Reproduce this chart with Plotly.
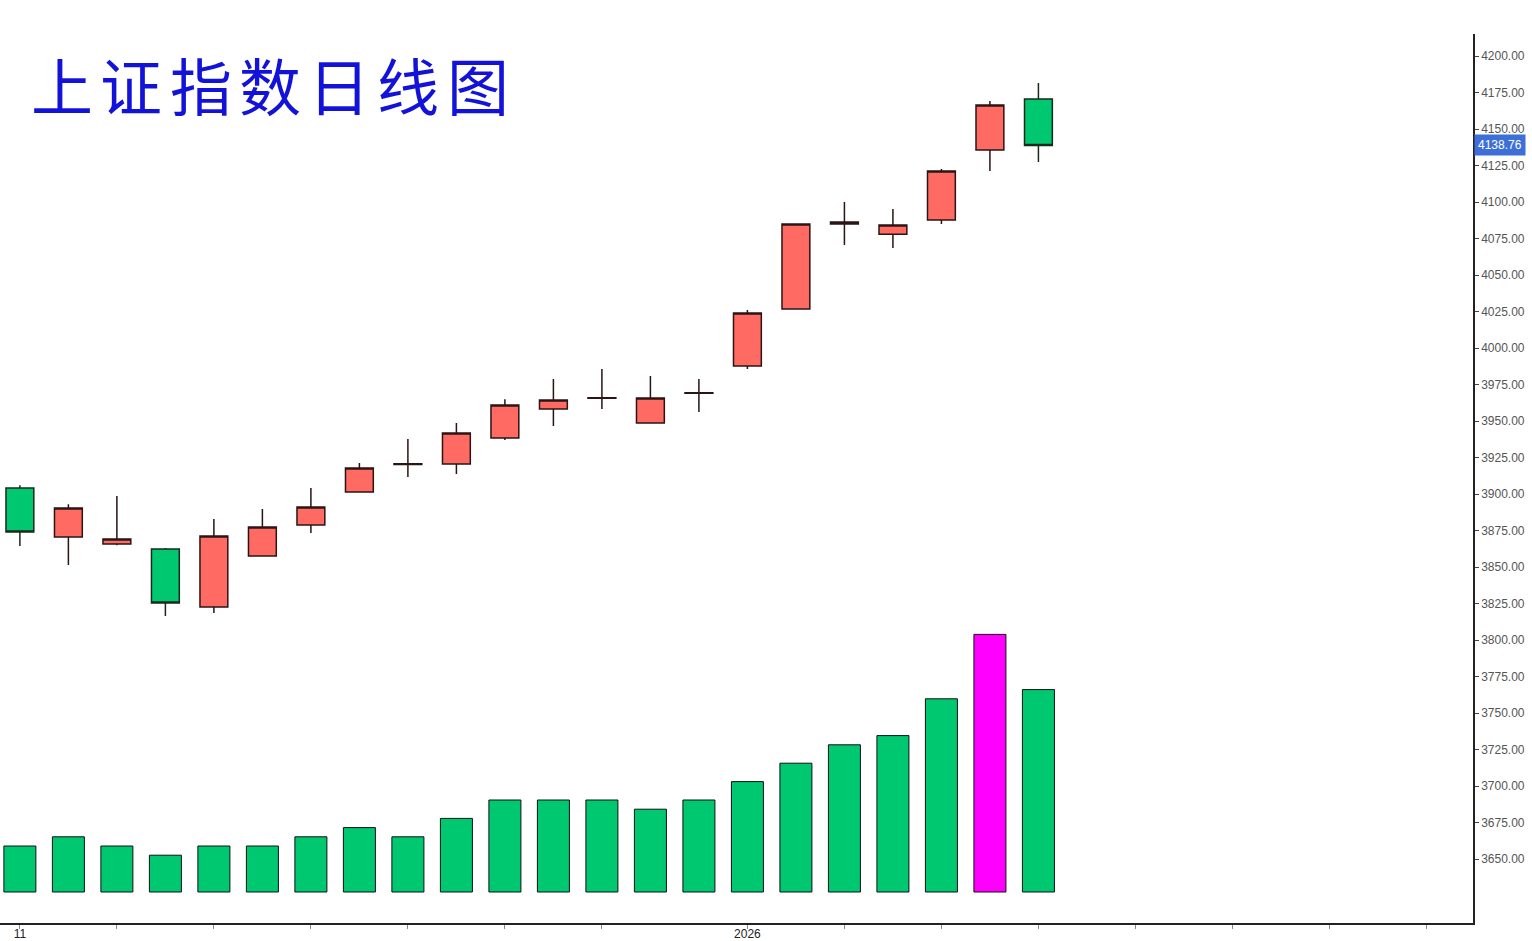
import plotly.graph_objects as go

# ---- data ----
idx = list(range(22))
opens  = [3904.1, 3870.5, 3865.8, 3862.3, 3822.6, 3857.5, 3878.8, 3901.4, 3920.3, 3920.5, 3938.4,
          3958.2, 3965.6, 3948.6, 3969.0, 3987.7, 4026.7, 4084.9, 4078.0, 4087.7, 4135.6, 4170.5]
highs  = [3906.0, 3893.0, 3898.6, 3863.0, 3882.9, 3889.7, 3904.1, 3921.2, 3937.7, 3948.6, 3965.0,
          3978.8, 3985.6, 3980.8, 3978.8, 4026.0, 4084.9, 4100.0, 4095.2, 4122.6, 4169.2, 4181.5]
lows   = [3864.4, 3851.4, 3865.0, 3816.4, 3818.5, 3857.0, 3873.3, 3901.0, 3911.6, 3913.7, 3937.0,
          3946.6, 3958.2, 3948.4, 3956.2, 3985.6, 4026.5, 4070.5, 4068.5, 4084.9, 4121.2, 4127.4]
closes = [3874.0, 3890.4, 3869.2, 3825.3, 3871.2, 3877.4, 3891.1, 3917.8, 3920.7, 3941.8, 3961.0,
          3964.4, 3966.0, 3965.8, 3969.4, 4024.0, 4084.9, 4086.3, 4084.2, 4121.2, 4166.4, 4138.76]
volume = [5, 6, 5, 4, 5, 5, 6, 7, 6, 8, 10, 10, 10, 9, 10, 12, 14, 16, 17, 21, 28, 22]
vol_colors = ["#00C871"] * 20 + ["#FF00FF", "#00C871"]

tick_pos = [0, 2, 4, 6, 8, 10, 12, 15, 17, 19, 21, 23, 25, 27, 29]
tick_txt = ["11", "", "", "", "", "", "", "2026", "", "", "", "", "", "", ""]
price_ticks = [3650 + 25 * i for i in range(23)]
title_chars = list("上证指数日线图")
last_price = 4138.76

fig = go.Figure()

fig.add_trace(go.Bar(
    x=idx, y=volume, yaxis="y2", width=0.66,
    marker=dict(color=vol_colors, line=dict(color="#111111", width=1)),
    showlegend=False, hoverinfo="skip"))

fig.add_trace(go.Candlestick(
    x=idx, open=opens, high=highs, low=lows, close=closes,
    increasing=dict(fillcolor="#FF6B63", line=dict(color="#2a1414", width=1.5)),
    decreasing=dict(fillcolor="#00C871", line=dict(color="#1a2a1a", width=1.5)),
    whiskerwidth=0, showlegend=False))

plot_top, plot_h, plot_w = 34, 889, 1473
for i, ch in enumerate(title_chars):
    fig.add_annotation(
        xref="paper", yref="paper", x=(62 + i * 69.3) / plot_w, y=1 - (84 - plot_top) / plot_h,
        text=ch, showarrow=False, xanchor="center", yanchor="middle",
        font=dict(family="Noto Sans CJK SC", size=62, color="#1212D8"))

fig.add_annotation(
    xref="paper", yref="y", x=1, y=last_price, xanchor="left", yanchor="middle",
    xshift=1, text=f"{last_price:.2f}", showarrow=False,
    bgcolor="#3D6FD6", borderpad=3,
    font=dict(family="Liberation Sans", size=12, color="white"))

fig.update_layout(
    width=1532, height=941,
    margin=dict(l=0, r=59, t=34, b=18, autoexpand=False),
    paper_bgcolor="white", plot_bgcolor="white",
    boxgap=0.18, boxgroupgap=0.3,
    xaxis=dict(range=[-0.41, 29.96], tickvals=tick_pos, ticktext=tick_txt, automargin=False,
               showgrid=False, zeroline=False, showline=True, linecolor="#222222", linewidth=1.5,
               ticks="outside", ticklen=4, tickcolor="#888888", ticklabelstandoff=-5,
               tickfont=dict(family="Liberation Sans", size=12, color="#222222"),
               rangeslider=dict(visible=False), fixedrange=True),
    yaxis=dict(side="right", range=[3606.2, 4215.1], tickvals=price_ticks, tickformat=".2f",
               automargin=False,
               showgrid=False, zeroline=False, showline=True, linecolor="#222222", linewidth=1.5,
               ticks="outside", ticklen=4, tickcolor="#444444",
               tickfont=dict(family="Liberation Sans", size=12, color="#555555")),
    yaxis2=dict(overlaying="y", range=[-3.37, 93.26], visible=False, showgrid=False,
                automargin=False),
    font=dict(family="Liberation Sans"),
)

fig.write_html("out.html", config={"displayModeBar": False},
               post_script="document.body.style.margin='0';")
